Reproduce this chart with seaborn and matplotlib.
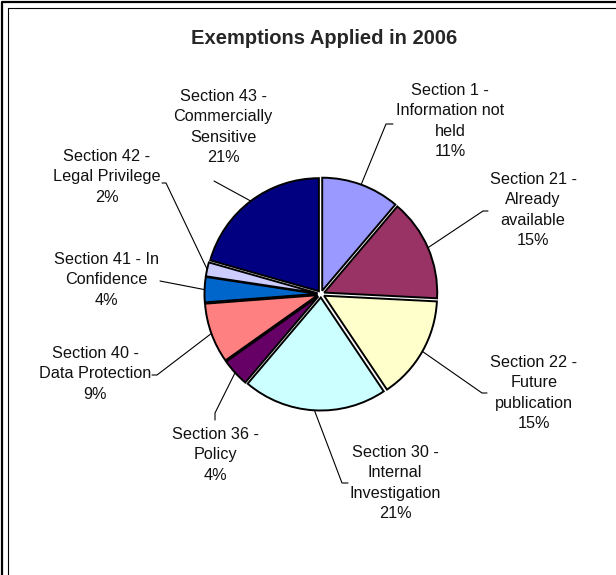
import matplotlib
matplotlib.use("Agg")
import matplotlib.pyplot as plt
import numpy as np
import seaborn as sns

# --- Data --------------------------------------------------------------------
sections = [
    "Section 1 -\nInformation not\nheld",
    "Section 21 -\nAlready\navailable",
    "Section 22 -\nFuture\npublication",
    "Section 30 -\nInternal\nInvestigation",
    "Section 36 -\nPolicy",
    "Section 40 -\nData Protection",
    "Section 41 - In\nConfidence",
    "Section 42 -\nLegal Privilege",
    "Section 43 -\nCommercially\nSensitive",
]
shares = [11.2, 14.6, 14.8, 20.6, 4.0, 8.6, 3.6, 2.0, 20.6]
colors = ["#9999FF", "#993366", "#FFFFCC", "#CCFFFF", "#660066",
          "#FF8080", "#0066CC", "#CCCCFF", "#000080"]

# --- Layout (pixel coords, y from top) ----------------------------------------
W, H = 616, 575
CENTER = (321, 294)
RADIUS = 113
GAP = 3.5  # explode distance in pixels
label_pos = [(450, 121), (533, 210), (534, 393), (395, 483), (215, 455),
             (95, 374), (106, 280), (107, 177), (223, 127)]
# leader line: wedge edge -> elbow -> end
elbows = [(386, 124), (483, 211), (482, 393), (342, 483), (215, 413),
          (157, 375), (160, 281), (166, 183), (214, 181)]
ends = [(393, 124), (488, 211), (487, 393), (348, 483), (215, 420),
        (152, 375), (160, 281), (162, 183), (214, 181)]

sns.set_style("white")
plt.rcParams["font.family"] = ["Liberation Sans", "DejaVu Sans"]

fig = plt.figure(figsize=(W / 100, H / 100), dpi=100)
ax = fig.add_axes([0, 0, 1, 1])

wedges, _ = ax.pie(
    shares,
    colors=sns.color_palette(colors),
    startangle=90,
    counterclock=False,
    explode=[GAP] * len(shares),
    center=(CENTER[0], H - CENTER[1]),
    radius=RADIUS,
    wedgeprops=dict(edgecolor="black", linewidth=1.4),
)
ax.set_xlim(0, W)
ax.set_ylim(0, H)
ax.set_aspect("equal")
ax.axis("off")

total = sum(shares)
for i, w in enumerate(wedges):
    theta = np.deg2rad((w.theta1 + w.theta2) / 2)
    cx, cy = w.center
    sx, sy = cx + RADIUS * np.cos(theta), cy + RADIUS * np.sin(theta)
    ex, ey = elbows[i]
    tx, ty = ends[i]
    ax.plot([sx, ex, tx], [sy, H - ey, H - ty], color="black", lw=0.8,
            solid_joinstyle="miter")
    pct = shares[i] / total * 100
    lx, ly = label_pos[i]
    ax.text(lx, H - ly, f"{sections[i]}\n{pct:.0f}%", ha="center",
            va="center", fontsize=11.7, linespacing=1.45, color="#111111")

ax.text(324, H - 38, "Exemptions Applied in 2006", ha="center", va="center",
        fontsize=14.5, fontweight="bold")

# double frame on the left and top (chart is cropped right/bottom)
ax.plot([2, 2, W + 5], [-5, H - 2, H - 2], color="black", lw=1.6,
        clip_on=False)
ax.plot([7.5, 7.5, W + 5], [-5, H - 7.5, H - 7.5], color="black", lw=0.8,
        clip_on=False)

fig.savefig("out.png", dpi=100)
